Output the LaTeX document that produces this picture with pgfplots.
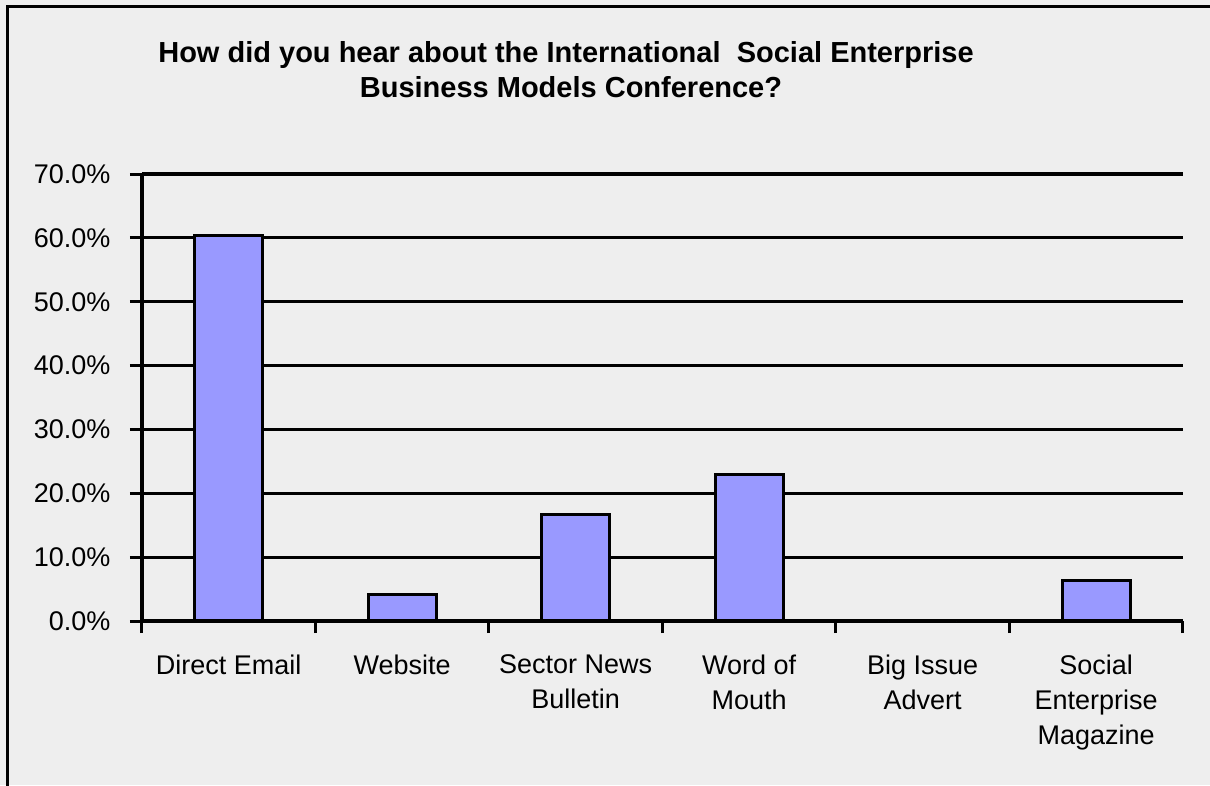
\documentclass[border=0pt]{standalone}
\usepackage{pgfplots}
\pgfplotsset{compat=1.18}
\usepackage{fontspec}
\setmainfont{Liberation Sans}
\definecolor{bg}{HTML}{EEEEEE}
\definecolor{barc}{HTML}{9999FF}
\begin{document}
\begin{tikzpicture}
\useasboundingbox (0pt,0pt) rectangle (1210pt,-785pt);
\fill[bg] (0pt,0pt) rectangle (1210pt,-785pt);
\draw[line width=3pt] (7pt,-800pt) -- (7pt,-6pt) -- (1220pt,-6pt);
\node[anchor=base, font=\bfseries\fontsize{29}{35}\selectfont] at (566pt,-62pt) {How did you hear about the International~ Social Enterprise};
\node[anchor=base, font=\bfseries\fontsize{29}{35}\selectfont] at (571pt,-97pt) {Business Models Conference?};
\begin{axis}[
  at={(142pt,-621pt)}, anchor=south west,
  scale only axis, width=1041pt, height=447pt,
  xmin=-0.5, xmax=5.5, ymin=0, ymax=70,
  axis x line*=bottom, axis y line*=left,
  axis line style={line width=3.2pt, -},
  ytick={0,10,...,70},
  yticklabel={\pgfmathprintnumber[fixed,fixed zerofill,precision=1]{\tick}\%},
  /pgf/number format/assume math mode=true,
  tick align=outside,
  major tick length=12pt,
  tick style={line width=3pt, black},
  ymajorgrids, grid style={line width=3.2pt, black},
  xtick={-0.5,0.5,...,5.5}, xticklabels={},
  extra x ticks={0,1,2,3,4,5},
  extra x tick style={major tick length=0pt, grid=none},
  extra x tick labels={Direct Email, Website, Sector News\\Bulletin, Word of\\Mouth, Big Issue\\Advert, Social\\Enterprise\\Magazine},
  xticklabel style={align=center, anchor=north, yshift=-30pt},
  ticklabel style={font=\fontsize{27}{35}\selectfont},
  yticklabel style={xshift=-16pt},
  ybar, bar width=68pt,
]
\addplot[fill=barc, draw=black, line width=3.2pt] coordinates {(0,60.4) (1,4.2) (2,16.7) (3,22.9) (4,0) (5,6.3)};
\end{axis}
\end{tikzpicture}
\end{document}
